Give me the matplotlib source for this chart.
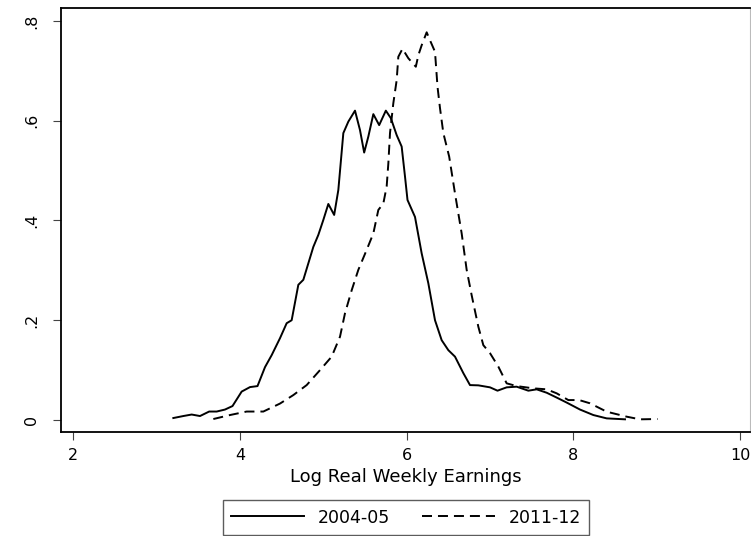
import matplotlib
matplotlib.use("Agg")
import matplotlib.pyplot as plt

plt.rcParams['font.family'] = ['DejaVu Sans']
plt.rcParams['lines.scale_dashes'] = False

# Kernel density of log real weekly earnings, 2004-05
x_0405 = [3.20, 3.32, 3.42, 3.52, 3.63, 3.72, 3.82, 3.91, 4.02, 4.12,
          4.21, 4.30, 4.38, 4.48, 4.56, 4.62, 4.70, 4.76, 4.88, 4.94,
          5.00, 5.06, 5.13, 5.18, 5.24, 5.30, 5.38, 5.44, 5.49, 5.54,
          5.60, 5.67, 5.75, 5.81, 5.88, 5.94, 5.98, 6.01, 6.10, 6.18,
          6.26, 6.34, 6.42, 6.50, 6.58, 6.68, 6.76, 6.86, 7.00, 7.09,
          7.20, 7.32, 7.46, 7.56, 7.68, 7.80, 7.92, 8.08, 8.24, 8.40,
          8.62]
y_0405 = [0.004, 0.008, 0.011, 0.008, 0.017, 0.017, 0.021, 0.028, 0.057, 0.066,
          0.068, 0.106, 0.130, 0.164, 0.194, 0.200, 0.271, 0.281, 0.347, 0.371,
          0.401, 0.433, 0.411, 0.461, 0.575, 0.598, 0.620, 0.581, 0.536, 0.568,
          0.613, 0.591, 0.620, 0.605, 0.571, 0.548, 0.488, 0.441, 0.407, 0.334,
          0.274, 0.200, 0.160, 0.140, 0.127, 0.094, 0.070, 0.0695, 0.0655, 0.0588,
          0.0655, 0.0668, 0.0588, 0.0615, 0.0547, 0.045, 0.035, 0.021, 0.010, 0.0033,
          0.0014]

# Kernel density of log real weekly earnings, 2011-12
x_1112 = [3.68, 3.88, 4.08, 4.16, 4.28, 4.48, 4.64, 4.80, 4.96, 5.10,
          5.20, 5.26, 5.34, 5.42, 5.52, 5.60, 5.66, 5.72, 5.76, 5.78,
          5.80, 5.84, 5.88, 5.90, 5.95, 6.02, 6.11, 6.14, 6.18, 6.24,
          6.28, 6.34, 6.37, 6.40, 6.44, 6.51, 6.58, 6.66, 6.72, 6.78,
          6.86, 6.92, 7.00, 7.10, 7.20, 7.32, 7.52, 7.68, 7.80, 7.94,
          8.07, 8.20, 8.40, 8.64, 8.80, 9.01]
y_1112 = [0.002, 0.010, 0.017, 0.017, 0.017, 0.033, 0.050, 0.070, 0.100, 0.127,
          0.167, 0.214, 0.260, 0.301, 0.341, 0.374, 0.421, 0.434, 0.468, 0.514,
          0.575, 0.635, 0.681, 0.728, 0.744, 0.725, 0.708, 0.731, 0.751, 0.777,
          0.761, 0.738, 0.668, 0.625, 0.575, 0.528, 0.454, 0.374, 0.301, 0.250,
          0.187, 0.150, 0.134, 0.107, 0.0735, 0.068, 0.0635, 0.0615, 0.0535, 0.040,
          0.040, 0.0335, 0.0167, 0.0067, 0.0014, 0.002]

x_ticks = [2, 4, 6, 8, 10]
y_ticks = [0, 0.2, 0.4, 0.6, 0.8]
y_tick_labels = ['0', '.2', '.4', '.6', '.8']

fig = plt.figure(figsize=(7.51, 5.36), dpi=100)
ax = fig.add_axes([61 / 751, 104 / 536, 689 / 751, 424 / 536])

ax.plot(x_0405, y_0405, color='black', lw=1.4, solid_joinstyle='round',
        label='2004-05')
ax.plot(x_1112, y_1112, color='black', lw=1.4, dashes=(7.2, 4.3),
        label='2011-12')

ax.set_xlim(1.852, 10.12)
ax.set_ylim(-0.024, 0.8257)
ax.set_xticks(x_ticks)
ax.set_xticklabels([str(t) for t in x_ticks])
ax.set_yticks(y_ticks)
ax.set_yticklabels(y_tick_labels, rotation=90, va='center')

for side in ['left', 'bottom', 'top']:
    ax.spines[side].set_linewidth(1.3)
    ax.spines[side].set_color('black')
ax.spines['right'].set_color('#bbbbbb')
ax.spines['right'].set_linewidth(0.8)

ax.tick_params(axis='both', direction='out', length=5.8, width=0.8,
               color='#444444', labelsize=11.5)
ax.tick_params(axis='x', pad=6)
ax.tick_params(axis='y', pad=10)

ax.set_xlabel('Log Real Weekly Earnings', fontsize=13, labelpad=3)

leg = fig.legend(loc='lower center', bbox_to_anchor=(406 / 751, 1 / 536),
                 ncol=2, fontsize=12.5, frameon=True, fancybox=False,
                 handlelength=4.2, handletextpad=0.8, columnspacing=1.85,
                 handleheight=1.2, borderpad=0.46, borderaxespad=0)
leg.get_frame().set_edgecolor('#333333')
leg.get_frame().set_linewidth(1.0)

fig.savefig('out.png', dpi=100)
